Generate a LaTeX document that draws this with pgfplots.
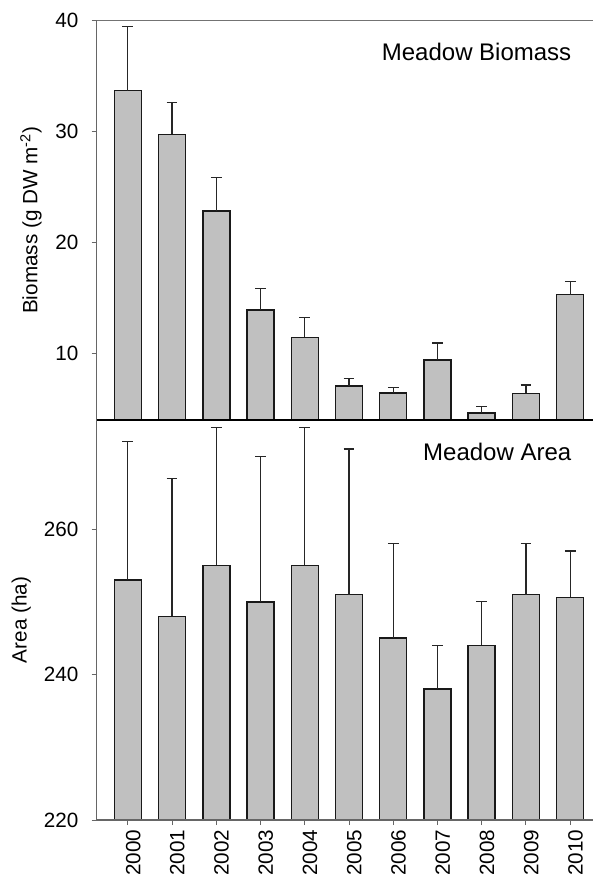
\documentclass[border=0pt]{standalone}
\usepackage{fontspec}
\setmainfont{Liberation Sans}
\usepackage{pgfplots}
\pgfplotsset{compat=1.18}
\usepackage{pgfplotstable}
\definecolor{barfill}{HTML}{C0C0C0}

\pgfplotstableread{
x y ey
0 33.7 5.8
1 29.75 2.85
2 22.85 3.0
3 13.9 1.95
4 11.45 1.8
5 7.05 0.7
6 6.45 0.5
7 9.4 1.55
8 4.65 0.6
9 6.4 0.75
10 15.3 1.2
}\biomass

\pgfplotstableread{
x y ey
0 253 19
1 248 19
2 255 19
3 250 20
4 255 19
5 251 20
6 245 13
7 238 6
8 244 6
9 251 7
10 250.6 6.4
}\area

\begin{document}
\begin{tikzpicture}
\useasboundingbox (0,0) rectangle (444.75pt,662.25pt);
\pgfplotsset{
  panel/.style={
    scale only axis, width=372.2pt, xmin=-0.703, xmax=10.515,
    axis line style={draw=none},
    tick align=outside, ytick pos=left, xtick pos=bottom,
    major tick length=3.75pt,
    tick style={black!60, line width=0.75pt},
    ybar, bar width=20.25pt,
    /pgf/number format/assume math mode=true,
    ticklabel style={font=\fontsize{15.5}{18}\selectfont},
    yticklabel style={xshift=-6.5pt},
    ylabel style={font=\fontsize{15.5}{18}\selectfont, anchor=base},
  },
  barstyle/.style={fill=barfill, draw=black!90, line width=1.1pt,
    error bars/.cd, y dir=plus, y explicit,
    error bar style={line width=0.9pt, black!85},
    error mark=-,
    error mark options={rotate=90, mark size=4pt, line width=0.9pt, black!85}},
}
\begin{axis}[panel, name=top, at={(72.53pt,347.25pt)}, anchor=south west,
  height=299.48pt, ymin=4, ymax=40, ytick={10,20,30,40}, xtick=\empty,
  ylabel={Biomass (g DW m\textsuperscript{-2})},
  ylabel style={at={(axis description cs:-0.1197,0.5)}}]
\addplot[barstyle] table[x=x, y=y, y error=ey] {\biomass};
\node[anchor=base east, font=\fontsize{18}{21}\selectfont] at (axis description cs:0.9658,0.8998) {Meadow Biomass};
\end{axis}
\begin{axis}[panel, name=bot, at={(72.53pt,47.25pt)}, anchor=south west,
  height=300pt, ymin=220, ymax=275, ytick={220,240,260},
  xtick={0,...,10},
  xticklabels={2000,2001,2002,2003,2004,2005,2006,2007,2008,2009,2010},
  xticklabel style={rotate=90, anchor=east, yshift=-4pt},
  ylabel={Area (ha)},
  ylabel style={at={(axis description cs:-0.141,0.5)}}]
\addplot[barstyle] table[x=x, y=y, y error=ey] {\area};
\node[anchor=base east, font=\fontsize{18}{21}\selectfont] at (axis description cs:0.9658,0.898) {Meadow Area};
\end{axis}
\draw[black!55, line width=1pt] (top.north west) -- ([xshift=10pt]top.north east);
\draw[black!60, line width=1pt] (bot.south west) -- (top.north west);
\draw[black!60, line width=1pt] (bot.south west) -- ([xshift=10pt]bot.south east);
\draw[black, line width=1.4pt] (top.south west) -- ([xshift=10pt]top.south east);
\end{tikzpicture}
\end{document}
